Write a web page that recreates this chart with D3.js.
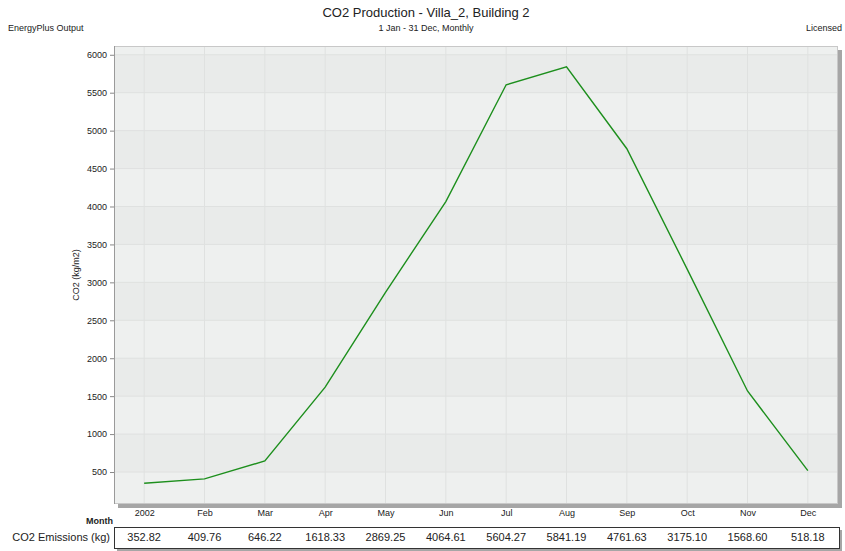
<!DOCTYPE html>
<html>
<head>
<meta charset="utf-8">
<script src="https://cdn.jsdelivr.net/npm/d3@7"></script>
<style>
  body { margin: 0; background: #fff; }
  text { font-family: "Liberation Sans", Arial, sans-serif; fill: #222; }
</style>
</head>
<body>
<svg id="chart" width="845" height="551"></svg>
<script>
// chart data
const months = ["2002", "Feb", "Mar", "Apr", "May", "Jun", "Jul", "Aug", "Sep", "Oct", "Nov", "Dec"];
const co2 = [352.82, 409.76, 646.22, 1618.33, 2869.25, 4064.61, 5604.27, 5841.19, 4761.63, 3175.10, 1568.60, 518.18];
const yTicks = [500, 1000, 1500, 2000, 2500, 3000, 3500, 4000, 4500, 5000, 5500, 6000];

const svg = d3.select("#chart");
const plot = { left: 114, top: 46, right: 838, bottom: 504 };

// 5% padding around the data range, like the original auto scale
const lo = d3.min(co2), hi = d3.max(co2);
const pad = (hi - lo) * 0.05;

const x = d3.scalePoint().domain(months).range([plot.left, plot.right]).padding(0.5);
const y = d3.scaleLinear().domain([lo - pad, hi + pad]).range([plot.bottom, plot.top]);

// shadow of the plot box
svg.append("rect")
  .attr("x", plot.left + 4).attr("y", plot.top + 4)
  .attr("width", plot.right - plot.left).attr("height", plot.bottom - plot.top)
  .attr("fill", "#a6a6a6");

svg.append("rect")
  .attr("x", plot.left).attr("y", plot.top)
  .attr("width", plot.right - plot.left).attr("height", plot.bottom - plot.top)
  .attr("fill", "#eef0ef");

// alternating bands between gridlines
const edges = [y.domain()[0]].concat(yTicks).concat([y.domain()[1]]);
for (let i = 0; i < edges.length - 1; i++) {
  if (i % 2 === 1) {
    svg.append("rect")
      .attr("x", plot.left).attr("y", y(edges[i + 1]))
      .attr("width", plot.right - plot.left)
      .attr("height", y(edges[i]) - y(edges[i + 1]))
      .attr("fill", "#e9ebea");
  }
}

// grid
svg.append("g").selectAll("line").data(yTicks).join("line")
  .attr("x1", plot.left).attr("x2", plot.right)
  .attr("y1", d => y(d)).attr("y2", d => y(d))
  .attr("stroke", "#dfe1e0").attr("stroke-width", 1);
svg.append("g").selectAll("line").data(months).join("line")
  .attr("x1", d => x(d)).attr("x2", d => x(d))
  .attr("y1", plot.top).attr("y2", plot.bottom)
  .attr("stroke", "#dfe1e0").attr("stroke-width", 1);

// border
svg.append("rect")
  .attr("x", plot.left + 0.5).attr("y", plot.top + 0.5)
  .attr("width", plot.right - plot.left - 1).attr("height", plot.bottom - plot.top - 1)
  .attr("fill", "none").attr("stroke", "#c8c8c8");
svg.append("line")
  .attr("x1", plot.left + 0.5).attr("x2", plot.left + 0.5)
  .attr("y1", plot.top).attr("y2", plot.bottom)
  .attr("stroke", "#9a9a9a");

// y axis
const yAxis = svg.append("g")
  .attr("transform", `translate(${plot.left},0)`)
  .call(d3.axisLeft(y).tickValues(yTicks).tickFormat(d3.format("d")).tickSize(4).tickPadding(3));
yAxis.select(".domain").remove();
yAxis.selectAll(".tick line").attr("stroke", "#888");
yAxis.selectAll("text").attr("font-size", 9).attr("fill", "#222")
  .style("font-family", "'Liberation Sans', Arial, sans-serif");

// x axis labels
const xAxis = svg.append("g")
  .attr("transform", `translate(0,${plot.bottom + 1})`)
  .call(d3.axisBottom(x).tickSize(0).tickPadding(5));
xAxis.select(".domain").remove();
xAxis.selectAll("text").attr("font-size", 9).attr("fill", "#222")
  .style("font-family", "'Liberation Sans', Arial, sans-serif");

// line
svg.append("path")
  .datum(co2)
  .attr("fill", "none")
  .attr("stroke", "#1d8f1d")
  .attr("stroke-width", 1.4)
  .attr("d", d3.line().x((d, i) => x(months[i])).y(d => y(d)));

// titles
svg.append("text").attr("x", 426).attr("y", 17).attr("text-anchor", "middle")
  .attr("font-size", 13).text("CO2 Production - Villa_2, Building 2");
svg.append("text").attr("x", 426).attr("y", 31).attr("text-anchor", "middle")
  .attr("font-size", 9).text("1 Jan - 31 Dec, Monthly");
svg.append("text").attr("x", 8).attr("y", 31)
  .attr("font-size", 9).text("EnergyPlus Output");
svg.append("text").attr("x", 842).attr("y", 31).attr("text-anchor", "end")
  .attr("font-size", 9).text("Licensed");

svg.append("text")
  .attr("transform", `translate(79,${(plot.top + plot.bottom) / 2}) rotate(-90)`)
  .attr("text-anchor", "middle").attr("font-size", 9).text("CO2 (kg/m2)");

// data table
const tbl = { top: 527, bottom: 548 };
svg.append("rect")
  .attr("x", plot.left + 3).attr("y", tbl.top + 3)
  .attr("width", plot.right - plot.left + 1).attr("height", tbl.bottom - tbl.top)
  .attr("fill", "#a6a6a6");
svg.append("rect")
  .attr("x", plot.left + 0.5).attr("y", tbl.top + 0.5)
  .attr("width", plot.right - plot.left + 1).attr("height", tbl.bottom - tbl.top)
  .attr("fill", "#fff").attr("stroke", "#333");

svg.append("text").attr("x", 113).attr("y", 524).attr("text-anchor", "end")
  .attr("font-size", 9).attr("font-weight", "bold").text("Month");
svg.append("text").attr("x", 110).attr("y", 541).attr("text-anchor", "end")
  .attr("font-size", 11).text("CO2 Emissions (kg)");

svg.append("g").selectAll("text").data(co2).join("text")
  .attr("x", (d, i) => x(months[i]))
  .attr("y", 541)
  .attr("text-anchor", "middle")
  .attr("font-size", 11)
  .text(d => d.toFixed(2));
</script>
</body>
</html>
